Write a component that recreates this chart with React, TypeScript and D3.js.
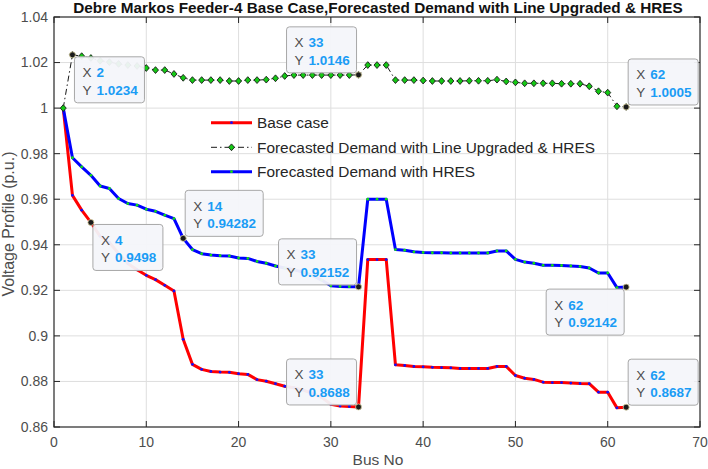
import React from 'react';
import * as d3 from 'd3';

// chart data
const busNo = [
  1, 2, 3, 4, 5, 6, 7, 8, 9, 10, 11, 12, 13, 14, 15, 16, 17, 18, 19, 20, 21,
  22, 23, 24, 25, 26, 27, 28, 29, 30, 31, 32, 33, 34, 35, 36, 37, 38, 39, 40,
  41, 42, 43, 44, 45, 46, 47, 48, 49, 50, 51, 52, 53, 54, 55, 56, 57, 58, 59,
  60, 61, 62,
];

const baseCase = [
  1.0, 0.9617, 0.9552, 0.9498, 0.9437, 0.941, 0.9362, 0.9318, 0.929, 0.9266,
  0.9247, 0.9222, 0.9197, 0.8985, 0.8875, 0.8853, 0.8844, 0.8841, 0.884, 0.8834,
  0.8831, 0.8808, 0.8801, 0.879, 0.8779, 0.8772, 0.8762, 0.8748, 0.873, 0.87,
  0.8692, 0.869, 0.8688, 0.9335, 0.9335, 0.9335, 0.8873, 0.887, 0.8866, 0.8864,
  0.8862, 0.8861, 0.886, 0.8857, 0.8857, 0.8857, 0.8857, 0.8866, 0.8866, 0.8826,
  0.8814, 0.8809, 0.8797, 0.8795, 0.8795, 0.8793, 0.8791, 0.879, 0.8753, 0.8753,
  0.8684, 0.8687,
];

const upgradedHres = [
  1.0, 1.0234, 1.0228, 1.022, 1.0208, 1.0202, 1.0194, 1.0189, 1.0185, 1.0176,
  1.0167, 1.0167, 1.015, 1.0133, 1.0123, 1.0123, 1.0123, 1.0123, 1.0119, 1.0119,
  1.0123, 1.0123, 1.0125, 1.0131, 1.0141, 1.0145, 1.0145, 1.0145, 1.0145, 1.0145,
  1.0145, 1.0145, 1.0146, 1.0189, 1.0189, 1.0189, 1.0123, 1.0123, 1.0123, 1.0121,
  1.0119, 1.0119, 1.0119, 1.0119, 1.012, 1.012, 1.012, 1.0125, 1.0117, 1.0113,
  1.0109, 1.0109, 1.0109, 1.0109, 1.0107, 1.0107, 1.0107, 1.0096, 1.0074, 1.0068,
  1.0008, 1.0005,
];

const withHres = [
  1.0, 0.9782, 0.9742, 0.9705, 0.9658, 0.9647, 0.9603, 0.9581, 0.9574, 0.9556,
  0.9547, 0.953, 0.9515, 0.94282, 0.9379, 0.9361, 0.9355, 0.9352, 0.9351, 0.9342,
  0.934, 0.9327, 0.9319, 0.9307, 0.9298, 0.929, 0.928, 0.9265, 0.9245, 0.922,
  0.9217, 0.9216, 0.92152, 0.96, 0.96, 0.96, 0.9379, 0.9376, 0.9369, 0.9366,
  0.9365, 0.9365, 0.9364, 0.9364, 0.9364, 0.9364, 0.9364, 0.9373, 0.9373, 0.9336,
  0.9324, 0.9319, 0.931, 0.931, 0.9309, 0.9307, 0.9305, 0.9298, 0.9276, 0.9276,
  0.9212, 0.92142,
];

const xTicks = [0, 10, 20, 30, 40, 50, 60, 70];
const yTicks = [0.86, 0.88, 0.9, 0.92, 0.94, 0.96, 0.98, 1, 1.02, 1.04];

const legendLabels = [
  'Base case',
  'Forecasted Demand with Line Upgraded & HRES',
  'Forecasted Demand with HRES',
];

// data tips: which series, which bus, which side of the point the box sits
const dataTips = [
  { series: 1, bus: 2, side: 'se' },
  { series: 1, bus: 33, side: 'nw' },
  { series: 1, bus: 62, side: 'ne' },
  { series: 2, bus: 14, side: 'ne' },
  { series: 0, bus: 4, side: 'se' },
  { series: 2, bus: 33, side: 'nw' },
  { series: 0, bus: 33, side: 'nw' },
  { series: 2, bus: 62, side: 'sw' },
  { series: 0, bus: 62, side: 'ne' },
];

const W = 708;
const H = 469;
const FONT = '"Liberation Sans", Arial, Helvetica, sans-serif';
const TIP_FS = 13.5;

// matlab style diamond (square turned 45 deg)
const diamond = 'M0,-3.4L3,0L0,3.4L-3,0Z';

// rough width of a bold number string in Liberation Sans
const numWidth = (s: string) =>
  s.split('').reduce((acc, c) => acc + (c === '.' ? 0.278 : 0.556), 0) * TIP_FS;

const App = () => {
  const x = d3.scaleLinear().domain([0, 70]).range([54, 700]);
  const y = d3.scaleLinear().domain([0.86, 1.04]).range([427, 17]);

  const allSeries = [baseCase, upgradedHres, withHres];
  const line = d3
    .line<number>()
    .x((_, i) => x(busNo[i]))
    .y((d) => y(d));

  const tipBoxes = dataTips.map((t) => {
    const i = busNo.indexOf(t.bus);
    const v = allSeries[t.series][i];
    const mx = x(t.bus);
    const my = y(v);
    const xs = String(t.bus);
    const ys = String(v);
    const bw = Math.round(22 + Math.max(numWidth(xs), numWidth(ys)) + 7);
    const bh = 46;
    const left = t.side === 'se' || t.side === 'ne' ? mx + 2 : mx - 2 - bw;
    const top = t.side === 'se' || t.side === 'sw' ? my + 2 : my - 2 - bh;
    return { mx, my, xs, ys, bw, bh, left, top };
  });

  return (
    <svg
      width={W}
      height={H}
      style={{ position: 'absolute', left: 0, top: 0, background: '#fff' }}
      fontFamily={FONT}
    >
      {/* grid */}
      {xTicks.slice(1, -1).map((t) => (
        <line key={'gx' + t} x1={x(t)} x2={x(t)} y1={y(1.04)} y2={y(0.86)} stroke="#dedede" strokeWidth={1} />
      ))}
      {yTicks.slice(1, -1).map((t) => (
        <line key={'gy' + t} x1={x(0)} x2={x(70)} y1={y(t)} y2={y(t)} stroke="#dedede" strokeWidth={1} />
      ))}

      {/* frame and inward ticks */}
      <rect x={x(0)} y={y(1.04)} width={x(70) - x(0)} height={y(0.86) - y(1.04)} fill="none" stroke="#262626" strokeWidth={1.2} />
      {xTicks.map((t) => (
        <g key={'tx' + t} stroke="#262626" strokeWidth={1}>
          <line x1={x(t)} x2={x(t)} y1={y(0.86)} y2={y(0.86) - 6} />
          <line x1={x(t)} x2={x(t)} y1={y(1.04)} y2={y(1.04) + 6} />
        </g>
      ))}
      {yTicks.map((t) => (
        <g key={'ty' + t} stroke="#262626" strokeWidth={1}>
          <line x1={x(0)} x2={x(0) + 6} y1={y(t)} y2={y(t)} />
          <line x1={x(70)} x2={x(70) - 6} y1={y(t)} y2={y(t)} />
        </g>
      ))}
      {xTicks.map((t) => (
        <text key={'lx' + t} x={x(t)} y={446.5} textAnchor="middle" fontSize={14} fill="#4d4d4d">
          {t}
        </text>
      ))}
      {yTicks.map((t) => (
        <text key={'ly' + t} x={x(0) - 6} y={y(t)} dy="0.35em" textAnchor="end" fontSize={14} fill="#4d4d4d">
          {String(t)}
        </text>
      ))}

      {/* axis labels and title */}
      <text x={378} y={465} textAnchor="middle" fontSize={15.5} fill="#4d4d4d">Bus No</text>
      <text transform="translate(14,224) rotate(-90)" textAnchor="middle" fontSize={16} fill="#4d4d4d">
        Voltage Profile (p.u.)
      </text>
      <text x={378} y={13} textAnchor="middle" fontSize={15.3} fontWeight="bold" fill="#111">
        Debre Markos Feeder-4 Base Case,Forecasted Demand with Line Upgraded &amp; HRES
      </text>

      {/* base case: red line, blue point markers */}
      <path d={line(baseCase) as string} fill="none" stroke="#ff0000" strokeWidth={3} strokeLinejoin="round" />
      {baseCase.map((v, i) => (
        <circle key={'b' + i} cx={x(busNo[i])} cy={y(v)} r={1.4} fill="#1010ff" />
      ))}

      {/* HRES: blue line, green point markers */}
      <path d={line(withHres) as string} fill="none" stroke="#0000ff" strokeWidth={3} strokeLinejoin="round" />
      {withHres.map((v, i) => (
        <circle key={'h' + i} cx={x(busNo[i])} cy={y(v)} r={1.4} fill="#10e010" />
      ))}

      {/* upgraded: black dash-dot, green diamonds */}
      <path d={line(upgradedHres) as string} fill="none" stroke="#1a1a1a" strokeWidth={1} strokeDasharray="6 3 1.5 3" />
      {upgradedHres.map((v, i) => (
        <path key={'u' + i} d={diamond} transform={`translate(${x(busNo[i])},${y(v)})`} fill="#14c814" stroke="#1a1a1a" strokeWidth={0.9} />
      ))}

      {/* legend */}
      {legendLabels.map((lab, k) => {
        const ly = [122.7, 147.3, 171.7][k];
        return (
          <g key={'lg' + k}>
            {k === 1 ? (
              <>
                <line x1={211} x2={252} y1={ly} y2={ly} stroke="#1a1a1a" strokeWidth={1} strokeDasharray="6 3 1.5 3" />
                <path d={diamond} transform={`translate(231.5,${ly})`} fill="#14c814" stroke="#1a1a1a" strokeWidth={0.9} />
              </>
            ) : (
              <>
                <line x1={211} x2={252} y1={ly} y2={ly} stroke={k === 0 ? '#ff0000' : '#0000ff'} strokeWidth={3} />
                <circle cx={231.5} cy={ly} r={1.4} fill={k === 0 ? '#1010ff' : '#10e010'} />
              </>
            )}
            <text x={257} y={ly} dy="0.35em" fontSize={15.4} fill="#262626">{lab}</text>
          </g>
        );
      })}

      {/* data tips */}
      {tipBoxes.map((b, k) => (
        <g key={'tip' + k}>
          <circle cx={b.mx} cy={b.my} r={3} fill="#1a1a1a" stroke="#d8cfa0" strokeWidth={0.8} />
          <rect x={b.left} y={b.top} width={b.bw} height={b.bh} rx={3} fill="#f4f6fa" fillOpacity={0.95} stroke="#a8a8a8" strokeWidth={1} />
          <text x={b.left + 8} y={b.top + 15.7} dy="0.35em" fontSize={TIP_FS} fill="#4d4d4d">X</text>
          <text x={b.left + 22} y={b.top + 15.7} dy="0.35em" fontSize={TIP_FS} fontWeight="bold" fill="#1a9cf5">{b.xs}</text>
          <text x={b.left + 8} y={b.top + 33} dy="0.35em" fontSize={TIP_FS} fill="#4d4d4d">Y</text>
          <text x={b.left + 22} y={b.top + 33} dy="0.35em" fontSize={TIP_FS} fontWeight="bold" fill="#1a9cf5">{b.ys}</text>
        </g>
      ))}
    </svg>
  );
};

export default App;
